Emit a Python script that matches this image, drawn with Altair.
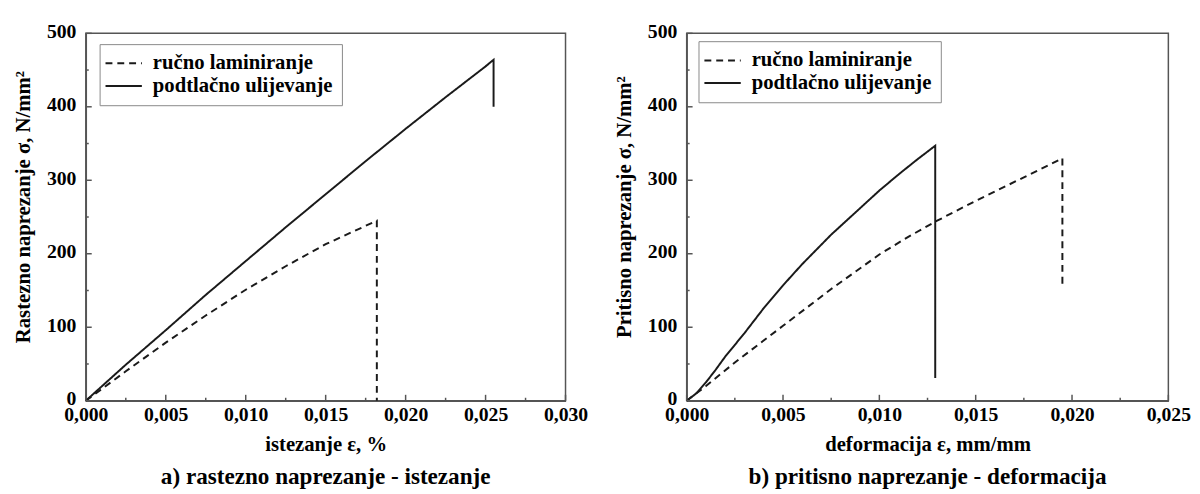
import altair as alt
import pandas as pd

# ---------------- data ----------------
series = ["ručno laminiranje", "podtlačno ulijevanje"]

# panel a) rastezno naprezanje - istezanje
a_ruc_x = [0.0, 0.001, 0.0025, 0.005, 0.0075, 0.010, 0.0125, 0.015, 0.0182, 0.0182]
a_ruc_y = [0, 16, 40, 79, 116, 151, 183, 213, 245, 0]
a_pod_x = [0.0, 0.0025, 0.005, 0.0075, 0.010, 0.0125, 0.015, 0.0175, 0.020, 0.0225, 0.025, 0.0255, 0.0255]
a_pod_y = [0, 49, 96, 144, 190, 236, 281, 326, 370, 413, 455, 464, 400]

# panel b) pritisno naprezanje - deformacija
b_ruc_x = [0.0, 0.001, 0.0025, 0.005, 0.0075, 0.010, 0.0115, 0.013, 0.015, 0.0175, 0.0195, 0.0195]
b_ruc_y = [0, 20, 52, 102, 152, 199, 223, 245, 272, 304, 330, 155]
b_pod_x = [0.0, 0.0005, 0.001, 0.0015, 0.002, 0.0025, 0.003, 0.004, 0.005, 0.006, 0.0075,
           0.009, 0.010, 0.011, 0.012, 0.0129, 0.0129]
b_pod_y = [0, 10, 25, 42, 60, 76, 92, 126, 157, 186, 226, 262, 286, 308, 329, 347, 31]

a_xticks_major = [0.0, 0.005, 0.010, 0.015, 0.020, 0.025, 0.030]
a_xticks_minor = [0.0025, 0.0075, 0.0125, 0.0175, 0.0225, 0.0275]
b_xticks_major = [0.0, 0.005, 0.010, 0.015, 0.020, 0.025]
b_xticks_minor = [0.0025, 0.0075, 0.0125, 0.0175, 0.0225]
yticks_major = [0, 100, 200, 300, 400, 500]
yticks_minor = [50, 150, 250, 350, 450]

FONT = "Liberation Serif"
INK = "#1a1a1a"
FRAME = "#555555"


def make_df(xs_list, ys_list):
    rows = []
    for name, xs, ys in zip(series, xs_list, ys_list):
        for i, (x, y) in enumerate(zip(xs, ys)):
            rows.append({"s": name, "x": x, "y": y, "i": i})
    return pd.DataFrame(rows)


def panel(df, xmax, xmaj, xmin, xtitle, ytitle, caption, w, h, legx, legy):
    xs = alt.Scale(domain=[0, xmax], nice=False, zero=True)
    ys = alt.Scale(domain=[0, 500], nice=False)
    xaxis = alt.Axis(
        title=xtitle, values=xmaj,
        labelExpr="replace(format(datum.value, '.3f'), '.', ',')",
        labelPadding=4, titlePadding=10, titleFontSize=21,
    )
    yaxis = alt.Axis(title=ytitle, values=yticks_major, format="d",
                     labelPadding=10, titlePadding=13, titleFontSize=21,
                     titleY=176, labelOffset=-2)

    lines = alt.Chart(df).mark_line(color=INK, strokeWidth=2).encode(
        x=alt.X("x:Q", scale=xs, axis=xaxis),
        y=alt.Y("y:Q", scale=ys, axis=yaxis),
        strokeDash=alt.StrokeDash(
            "s:N",
            scale=alt.Scale(domain=series, range=[[7, 5], [1, 0]]),
            legend=alt.Legend(
                title=None, orient="none", legendX=legx, legendY=legy,
                symbolType="M-1.5,0H2.6", symbolSize=324,
                symbolStrokeWidth=2, symbolStrokeColor=INK,
                labelFont=FONT, labelFontSize=21, labelFontWeight="bold",
                labelColor="black", labelOffset=24, labelLimit=400,
                padding=9, rowPadding=1,
                strokeColor="#888888", fillColor="white",
            ),
        ),
        order="i:Q",
    )

    xmaj_df = pd.DataFrame({"x": xmaj})
    xmin_df = pd.DataFrame({"x": xmin})
    ymaj_df = pd.DataFrame({"y": yticks_major})
    ymin_df = pd.DataFrame({"y": yticks_minor})

    def xt(d, L):
        return alt.Chart(d).mark_rule(color=FRAME, strokeWidth=1.5).encode(
            x=alt.X("x:Q", scale=xs, axis=xaxis),
            y=alt.value(h), y2=alt.value(h - L))

    def yt(d, L):
        return alt.Chart(d).mark_rule(color=FRAME, strokeWidth=1.5).encode(
            y=alt.Y("y:Q", scale=ys, axis=yaxis),
            x=alt.value(0), x2=alt.value(L))

    return alt.layer(
        lines, xt(xmaj_df, 6), xt(xmin_df, 3), yt(ymaj_df, 6), yt(ymin_df, 3)
    ).properties(
        width=w, height=h,
        title=alt.TitleParams(caption, orient="bottom", anchor="middle", frame="group",
                              font=FONT, fontSize=23.5, fontWeight="bold",
                              color="black", offset=11),
    )


left = panel(make_df([a_ruc_x, a_pod_x], [a_ruc_y, a_pod_y]), 0.030,
             a_xticks_major, a_xticks_minor,
             "istezanje ε, %", "Rastezno naprezanje σ, N/mm²",
             "a) rastezno naprezanje - istezanje", 487, 373, 14, 11)
right = panel(make_df([b_ruc_x, b_pod_x], [b_ruc_y, b_pod_y]), 0.025,
              b_xticks_major, b_xticks_minor,
              "deformacija ε, mm/mm", "Pritisno naprezanje σ, N/mm²",
              "b) pritisno naprezanje - deformacija", 489, 373, 12, 8)

chart = alt.hconcat(left, right, spacing=24).resolve_scale(
    x="independent", y="independent", strokeDash="independent"
).resolve_legend(strokeDash="independent").properties(
    padding={"left": 4, "top": 9, "right": 0, "bottom": 0},
    background="white",
).configure_view(
    stroke=FRAME, strokeWidth=1.5
).configure_axis(
    domainColor=FRAME, domainWidth=1.5, ticks=False, grid=False,
    labelFont=FONT, labelFontSize=20, labelFontWeight="bold", labelColor="black",
    titleFont=FONT, titleFontSize=20, titleFontWeight="bold", titleColor="black",
    labelFlush=False, labelOverlap=False,
)

chart.save("out.html", embed_options={"renderer": "svg", "actions": False})
